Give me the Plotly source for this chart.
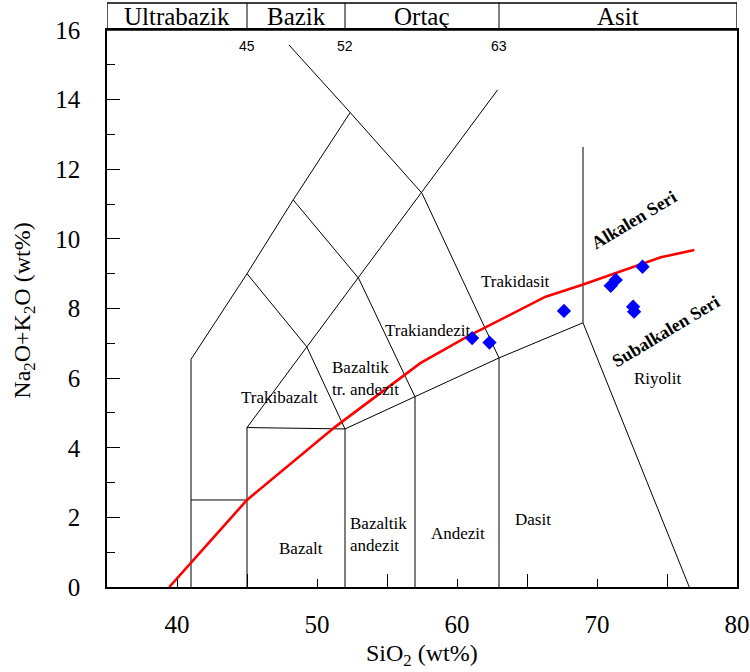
import plotly.graph_objects as go

# --- Sample analyses (SiO2 vs total alkalis, wt%) ---
sio2 = [61.08, 62.32, 67.64, 70.98, 71.34, 73.25, 72.58, 72.65]
alkali = [7.15, 7.02, 7.93, 8.65, 8.82, 9.20, 8.05, 7.91]

# --- Alkaline / subalkaline divide ---
divide_x = [39.45, 45.0, 51.3, 57.38, 60.73, 66.33, 68.96, 74.56, 76.95]
divide_y = [0.0, 2.5, 4.6, 6.43, 7.19, 8.34, 8.68, 9.47, 9.68]

# --- TAS field boundaries (polylines of SiO2, Na2O+K2O vertices) ---
field_lines = [
    [(41, 0), (41, 6.54), (45, 9.0), (48.3, 11.12), (52.37, 13.63)],
    [(48.0, 15.57), (52.37, 13.63), (57.5, 11.31), (63, 6.58)],
    [(48.3, 11.12), (52.97, 8.87), (57, 5.46)],
    [(45, 9.0), (49.27, 6.9), (52, 4.54)],
    [(45, 4.58), (62.9, 14.28)],
    [(45, 0), (45, 4.58), (52, 4.54), (57, 5.46), (63, 6.58), (69, 7.59), (76.59, 0)],
    [(52, 0), (52, 4.54)],
    [(57, 0), (57, 5.46)],
    [(63, 0), (63, 6.58)],
    [(69, 7.59), (69, 12.64)],
    [(41, 2.5), (45, 2.5)],
]

# --- Field names ---
field_names = ["Trakidasit", "Trakiandezit", "Bazaltik<br>tr. andezit", "Trakibazalt",
               "Bazalt", "Bazaltik<br>andezit", "Andezit", "Dasit", "Riyolit"]
field_x = [64.15, 57.96, 50.94, 47.29, 48.83, 52.23, 60.05, 65.4, 74.34]
field_y = [8.77, 7.38, 6.0, 5.43, 1.12, 1.52, 1.55, 1.93, 6.0]
field_anchor = ["center", "center", "left", "center", "center", "left", "center", "center", "center"]

# --- Silica classes along the top ---
class_names = ["Ultrabazik", "Bazik", "Ortaç", "Asit"]
class_edges = [35, 45, 52, 63, 80]
class_limits = ["45", "52", "63"]

SERIF = "Liberation Serif, Times New Roman, serif"
SANS = "Liberation Sans, Arial, sans-serif"

fig = go.Figure()

bx, by = [], []
for line in field_lines:
    for x, y in line:
        bx.append(x)
        by.append(y)
    bx.append(None)
    by.append(None)
fig.add_trace(go.Scatter(x=bx, y=by, mode="lines",
                         line=dict(color="black", width=1), hoverinfo="skip"))

fig.add_trace(go.Scatter(x=divide_x, y=divide_y, mode="lines",
                         line=dict(color="#ff0000", width=2.6), hoverinfo="skip"))

fig.add_trace(go.Scatter(x=sio2, y=alkali, mode="markers",
                         marker=dict(symbol="diamond", size=11, color="#0000ff",
                                     line=dict(width=0))))

annotations = []
for name, x, y, anc in zip(field_names, field_x, field_y, field_anchor):
    annotations.append(dict(x=x, y=y, text=name, showarrow=False, xanchor=anc,
                            align="left", font=dict(family=SERIF, size=17, color="black")))

annotations.append(dict(x=72.63, y=10.55, text="<b>Alkalen Seri</b>", showarrow=False,
                        textangle=-31, font=dict(family=SERIF, size=18, color="black")))
annotations.append(dict(x=74.95, y=7.35, text="<b>Subalkalen Seri</b>", showarrow=False,
                        textangle=-31, font=dict(family=SERIF, size=18, color="black")))

# header band with class names
header_bottom, header_top = 1.0, 1.0485
for name, x0, x1 in zip(class_names, class_edges[:-1], class_edges[1:]):
    annotations.append(dict(x=(x0 + x1) / 2, y=(header_bottom + header_top) / 2,
                            xref="x", yref="paper", text=name, showarrow=False,
                            yanchor="middle",
                            font=dict(family=SERIF, size=25, color="black")))
for lab in class_limits:
    annotations.append(dict(x=float(lab), y=15.55, text=lab, showarrow=False,
                            font=dict(family=SANS, size=14, color="black")))

# axis titles
annotations.append(dict(x=0.5, y=-0.122, xref="paper", yref="paper",
                        text="SiO<sub>2</sub> (wt%)", showarrow=False, yanchor="middle",
                        font=dict(family=SERIF, size=24, color="black")))
annotations.append(dict(x=-0.131, y=0.497, xref="paper", yref="paper",
                        text="Na<sub>2</sub>O+K<sub>2</sub>O (wt%)", showarrow=False,
                        textangle=-90, xanchor="center", yanchor="middle",
                        font=dict(family=SERIF, size=24, color="black")))

shapes = [
    dict(type="rect", xref="x", yref="paper", x0=35, x1=80,
         y0=header_bottom, y1=header_top, line=dict(color="black", width=1.3)),
]
for edge in class_edges[1:-1]:
    shapes.append(dict(type="line", xref="x", yref="paper", x0=edge, x1=edge,
                       y0=header_bottom, y1=header_top, line=dict(color="black", width=1)))

fig.update_layout(
    width=750, height=672,
    margin=dict(l=107, r=13, t=30, b=85, autoexpand=False),
    paper_bgcolor="white", plot_bgcolor="white",
    showlegend=False,
    annotations=annotations,
    shapes=shapes,
    xaxis=dict(range=[35, 80], tickvals=[40, 50, 60, 70, 80], ticks="inside",
               ticklen=8, tickcolor="black", tickwidth=1, automargin=False,
               minor=dict(tickvals=[45, 55, 65, 75], ticks="inside", ticklen=13,
                          tickcolor="black", tickwidth=1),
               showgrid=False, zeroline=False, showline=True, linecolor="black",
               linewidth=1.5, mirror=True, ticklabelstandoff=14,
               tickfont=dict(family=SERIF, size=25, color="black")),
    yaxis=dict(range=[0, 16], tickvals=list(range(0, 17, 2)), ticks="inside",
               ticklen=13, tickcolor="black", tickwidth=1, automargin=False,
               minor=dict(tickvals=list(range(1, 16, 2)), ticks="inside", ticklen=8,
                          tickcolor="black", tickwidth=1),
               showgrid=False, zeroline=False, showline=True, linecolor="black",
               linewidth=1.5, mirror=True, ticklabelstandoff=20,
               tickfont=dict(family=SERIF, size=25, color="black")),
)

fig.write_html("out.html")
